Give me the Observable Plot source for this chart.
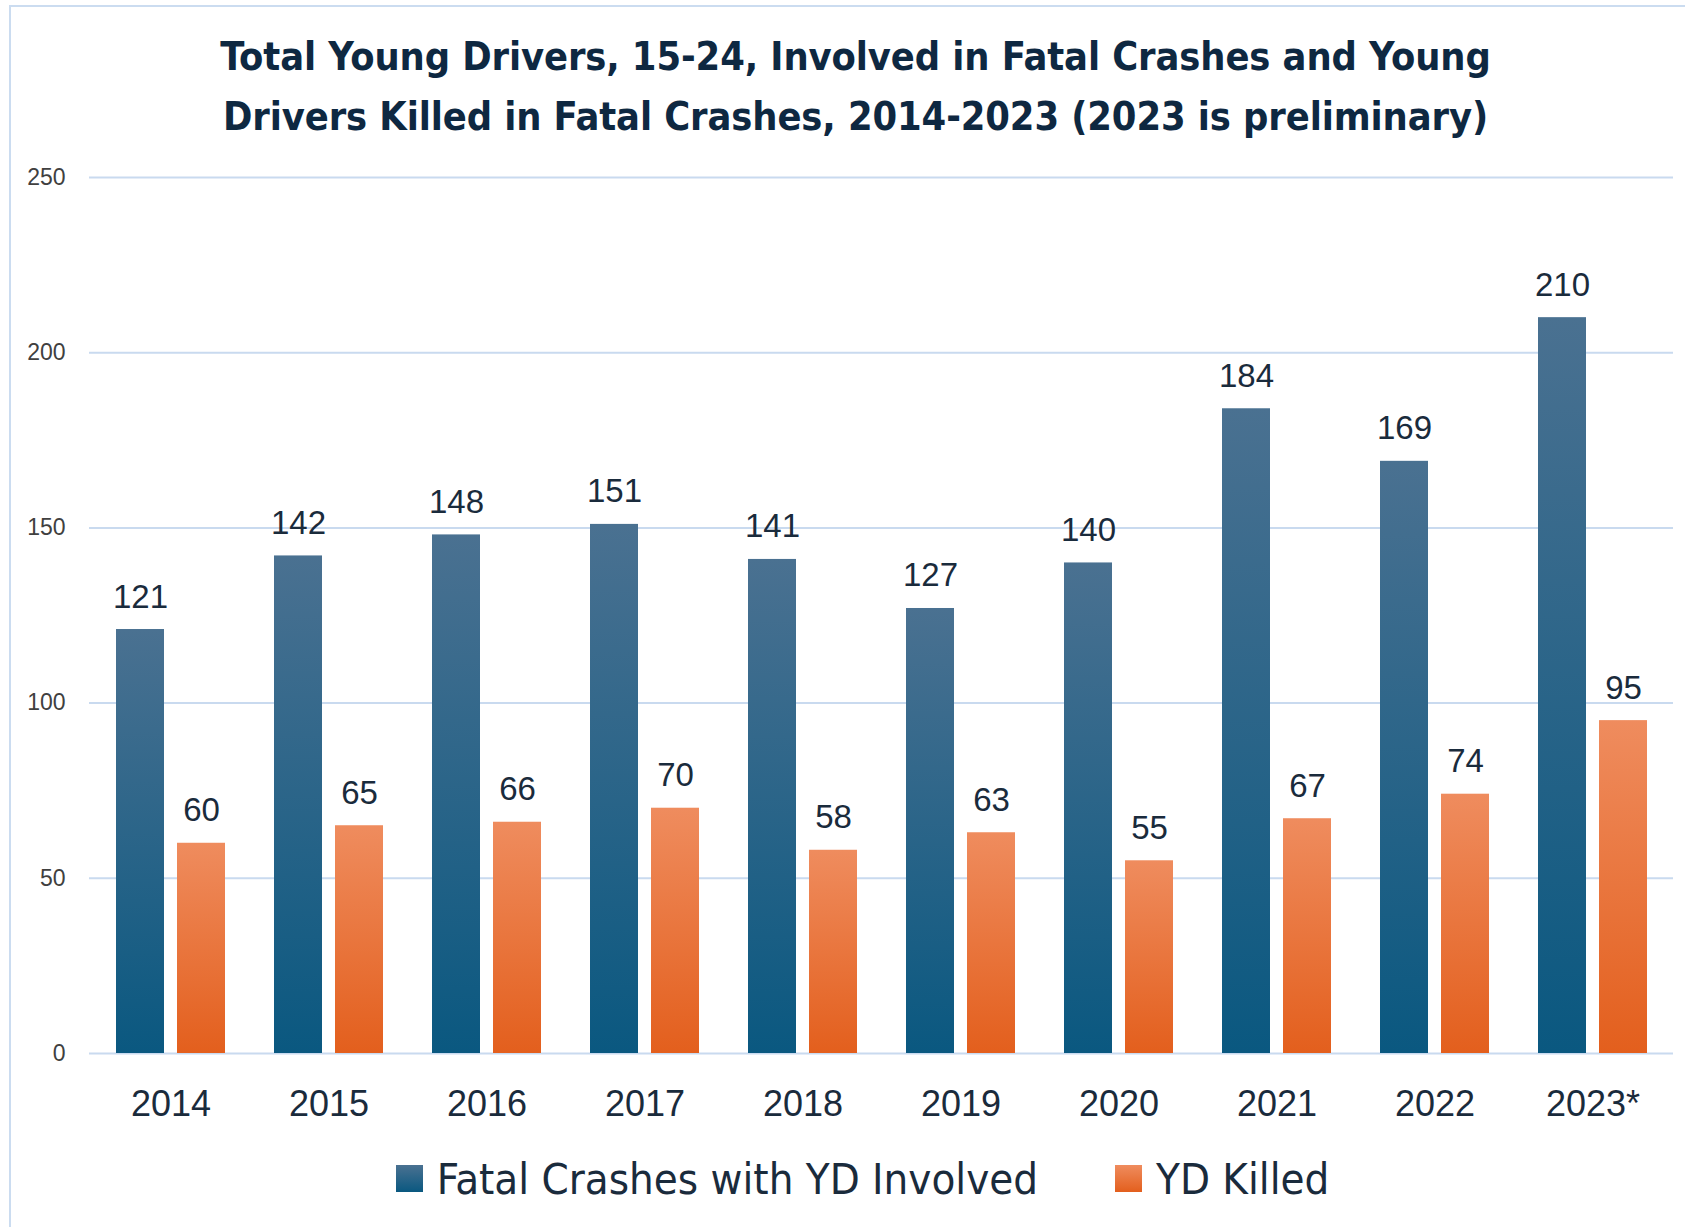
<!DOCTYPE html>
<html>
<head>
<meta charset="utf-8">
<script src="https://cdn.jsdelivr.net/npm/d3@7"></script>
<script src="https://cdn.jsdelivr.net/npm/@observablehq/plot@0.6"></script>
<style>
  html, body { margin: 0; padding: 0; background: #fff; }
  #wrap { position: relative; width: 1685px; height: 1227px; overflow: hidden; background: #fff; }
  #frame { position: absolute; left: 9px; top: 5px; right: -10px; bottom: -10px;
           border-top: 2px solid #cbdcf0; border-left: 2px solid #cbdcf0; pointer-events: none; }
  #title { position: relative; height: 150px; box-sizing: border-box; padding-top: 26px; padding-left: 26px;
           text-align: center; font-family: "Liberation Sans Narrow", "DejaVu Sans Condensed", "Liberation Sans", sans-serif;
           font-weight: bold; font-size: 39.4px; line-height: 60px; color: #0e2841; letter-spacing: -0.1px; }
  #chart { position: relative; height: 1000px; }
  #legend { position: relative; top: -10px; height: 77px; display: flex; justify-content: center; align-items: center;
            padding-left: 40px; box-sizing: border-box; gap: 77px;
            font-family: "Liberation Sans Narrow", "DejaVu Sans Condensed", "Liberation Sans", sans-serif;
            font-size: 43.4px; color: #1a2b3c; }
  .item { display: flex; align-items: center; gap: 14px; }
  .sw { width: 27px; height: 27px; }
</style>
</head>
<body>
<div id="wrap">
  <div id="title"></div>
  <div id="chart"></div>
  <div id="legend"></div>
  <div id="frame"></div>
</div>
<script>
// ---- data ----
const titleLines = [
  "Total Young Drivers, 15-24, Involved in Fatal Crashes and Young",
  "Drivers Killed in Fatal Crashes, 2014-2023 (2023 is preliminary)"
];
const years = ["2014", "2015", "2016", "2017", "2018", "2019", "2020", "2021", "2022", "2023*"];
const involved = [121, 142, 148, 151, 141, 127, 140, 184, 169, 210];
const killed = [60, 65, 66, 70, 58, 63, 55, 67, 74, 95];
const seriesNames = ["Fatal Crashes with YD Involved", "YD Killed"];
const yTicks = [0, 50, 100, 150, 200, 250];

// ---- styles ----
const gradients = {
  gBlue: ["#4a7191", "#0a5880"],
  gOrange: ["#ef8c5e", "#e35f1d"]
};
const textColor = "#1a2b3c";
const gridColor = "#c9daef";

const rowsInvolved = years.map((year, i) => ({year, series: seriesNames[0], value: involved[i]}));
const rowsKilled = years.map((year, i) => ({year, series: seriesNames[1], value: killed[i]}));

document.getElementById("title").innerHTML = titleLines.join("<br>");

const defsMark = () => {
  const ns = "http://www.w3.org/2000/svg";
  const defs = document.createElementNS(ns, "defs");
  for (const [id, [c0, c1]] of Object.entries(gradients)) {
    const g = document.createElementNS(ns, "linearGradient");
    g.setAttribute("id", id);
    g.setAttribute("x1", "0"); g.setAttribute("y1", "0");
    g.setAttribute("x2", "0"); g.setAttribute("y2", "1");
    [[0, c0], [1, c1]].forEach(([o, c]) => {
      const s = document.createElementNS(ns, "stop");
      s.setAttribute("offset", o);
      s.setAttribute("stop-color", c);
      g.appendChild(s);
    });
    defs.appendChild(g);
  }
  return defs;
};

const chart = Plot.plot({
  width: 1685,
  height: 1000,
  marginLeft: 89,
  marginRight: 12,
  marginTop: 27,
  marginBottom: 97,
  style: {fontFamily: "'Liberation Sans', Arial, sans-serif", background: "transparent"},
  x: {domain: years, paddingInner: 0.311, paddingOuter: 0.164, label: null},
  y: {domain: [0, 250], label: null},
  marks: [
    defsMark,
    Plot.ruleY(yTicks, {stroke: gridColor, strokeWidth: 2}),
    Plot.axisY({ticks: yTicks, tickSize: 0, tickPadding: 24, fontSize: 23, fill: "#404040", label: null}),
    Plot.axisX({tickSize: 0, tickPadding: 37, fontSize: 36, fill: textColor, label: null}),
    Plot.barY(rowsInvolved, {x: "year", y: "value", fill: "url(#gBlue)", insetRight: 61}),
    Plot.barY(rowsKilled, {x: "year", y: "value", fill: "url(#gOrange)", insetLeft: 61}),
    Plot.text(rowsInvolved, {x: "year", y: "value", text: d => String(d.value), dx: -30.5, dy: -22,
      lineAnchor: "bottom", fontSize: 33, fill: textColor}),
    Plot.text(rowsKilled, {x: "year", y: "value", text: d => String(d.value), dx: 30.5, dy: -22,
      lineAnchor: "bottom", fontSize: 33, fill: textColor})
  ]
});
document.getElementById("chart").appendChild(chart);

// legend
const legend = document.getElementById("legend");
seriesNames.forEach((name, i) => {
  const [c0, c1] = Object.values(gradients)[i];
  const item = document.createElement("div");
  item.className = "item";
  const sw = document.createElement("div");
  sw.className = "sw";
  sw.style.background = `linear-gradient(${c0}, ${c1})`;
  const label = document.createElement("span");
  label.textContent = name;
  item.appendChild(sw);
  item.appendChild(label);
  legend.appendChild(item);
});
</script>
</body>
</html>
